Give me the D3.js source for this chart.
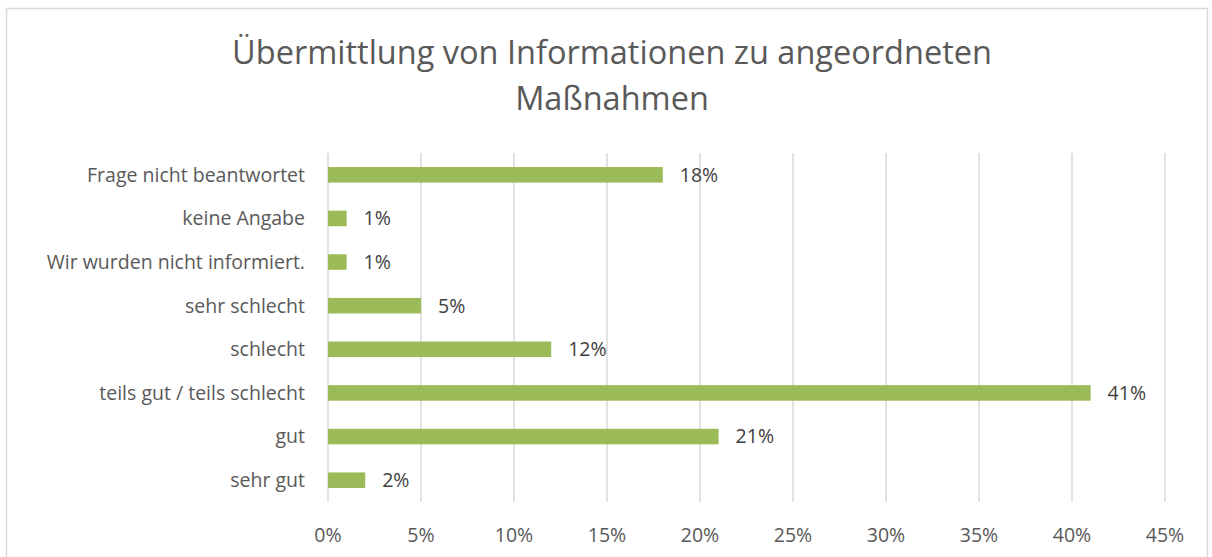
<!DOCTYPE html>
<html><head><meta charset="utf-8">
<script src="https://cdn.jsdelivr.net/npm/d3@7"></script>
<style>body{margin:0;background:#fff;} svg{display:block;font-family:"Open Sans",sans-serif;}</style>
</head><body>
<svg id="chart" width="1212" height="557"></svg>
<script>
const categories = ["Frage nicht beantwortet","keine Angabe","Wir wurden nicht informiert.","sehr schlecht","schlecht","teils gut / teils schlecht","gut","sehr gut"];
const values = [18,1,1,5,12,41,21,2];
const tickValues = [0,5,10,15,20,25,30,35,40,45];
const titleLines = ["Übermittlung von Informationen zu angeordneten","Maßnahmen"];

const svg = d3.select("#chart");
svg.append("rect").attr("x",6.5).attr("y",8.5).attr("width",1201).attr("height",560)
  .attr("fill","#fff").attr("stroke","#d9d9d9").attr("stroke-width",1.5);

const x = d3.scaleLinear().domain([0,45]).range([328,1165]);
const y = d3.scaleBand().domain(categories).range([153,502]).paddingInner(0.644).paddingOuter(0.322);

svg.append("g").selectAll("line").data(tickValues).join("line")
  .attr("x1",d=>x(d)).attr("x2",d=>x(d)).attr("y1",153).attr("y2",502)
  .attr("stroke","#d9d9d9").attr("stroke-width",1.5);

svg.append("g").selectAll("rect").data(values).join("rect")
  .attr("x",x(0)).attr("y",(d,i)=>y(categories[i]))
  .attr("width",d=>x(d)-x(0)).attr("height",y.bandwidth())
  .attr("fill","#9bbb59");

svg.append("g").selectAll("text").data(values).join("text")
  .attr("x",d=>x(d)+17).attr("y",(d,i)=>y(categories[i])+y.bandwidth()/2)
  .attr("dy","0.35em").attr("font-size",19.5).attr("fill","#404040").text(d=>d+"%");

svg.append("g").selectAll("text").data(categories).join("text")
  .attr("x",305).attr("y",d=>y(d)+y.bandwidth()/2).attr("dy","0.35em")
  .attr("text-anchor","end").attr("font-size",19.5).attr("fill","#595959").text(d=>d);

svg.append("g").selectAll("text").data(tickValues).join("text")
  .attr("x",d=>x(d)).attr("y",535).attr("dy","0.35em").attr("text-anchor","middle")
  .attr("font-size",19.5).attr("fill","#595959").text(d=>d+"%");

svg.append("g").selectAll("text").data(titleLines).join("text")
  .attr("x",612).attr("y",(d,i)=>64+i*46).attr("text-anchor","middle")
  .attr("font-size",32.5).attr("fill","#595959").text(d=>d);
</script>
</body></html>
